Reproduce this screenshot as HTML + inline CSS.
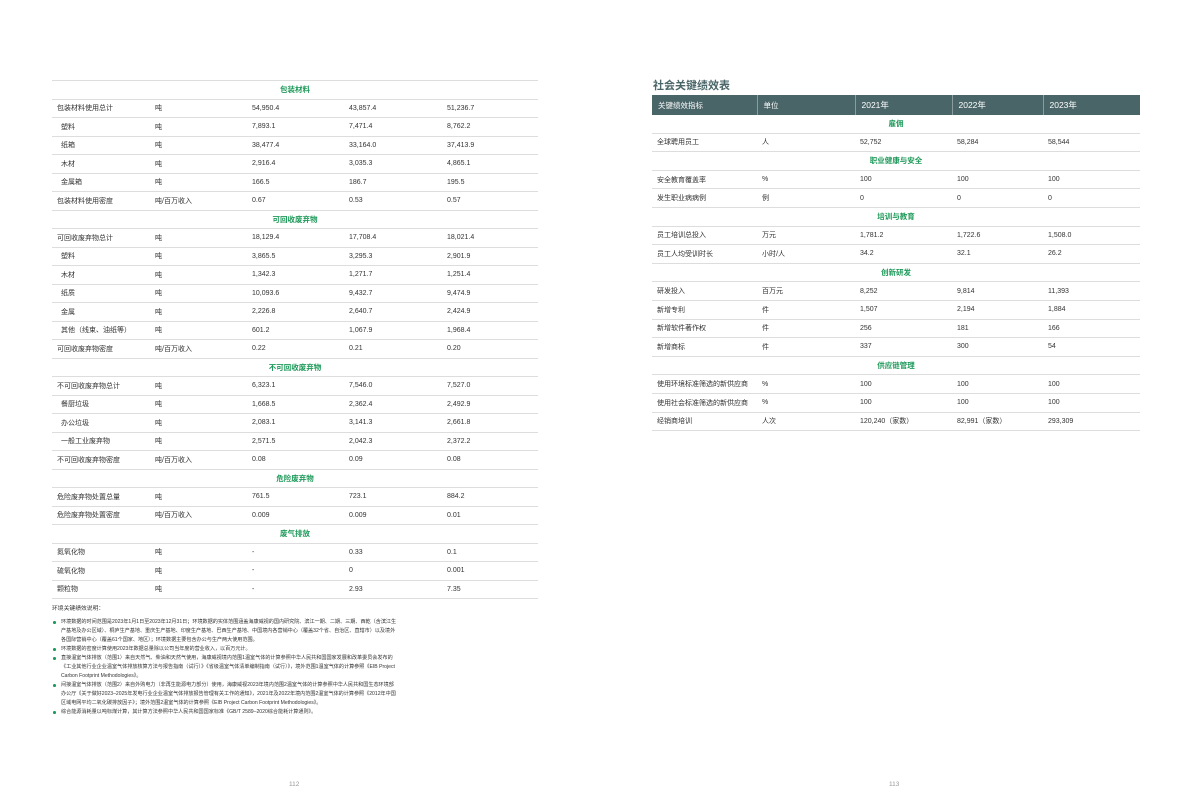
<!DOCTYPE html>
<html><head><meta charset="utf-8"><style>
body{margin:0;width:1192px;height:809px;background:#fff;position:relative;font-family:"Liberation Sans","Noto Sans CJK SC",sans-serif;color:#333;overflow:hidden}
table{border-collapse:collapse;position:absolute;table-layout:fixed;font-size:7px}
td{height:17.5px;padding:0 0 0 5px;border-bottom:1.5px solid #ddd;white-space:nowrap;overflow:hidden}
#R td{height:17.6px}
td.s{text-align:center;color:#1e9a5a;font-weight:bold;font-size:7.5px;padding:0}
.ind{padding-left:9px}
#L{left:52px;top:80px;width:486px;border-top:1.5px solid #ddd}
#R{left:652px;top:95px;width:488px}
#R th{background:#4a6568;color:#fff;font-weight:normal;text-align:left;padding:0 0 0 6px;height:20px;border-left:1px solid #8a9c9e;font-size:8.5px}
#R th:first-child{border-left:none;font-size:7.5px}
#R th:nth-child(2){font-size:7.5px}
.title{position:absolute;left:653px;top:77px;font-size:11px;font-weight:bold;color:#4a6568}
.notes{position:absolute;left:52px;top:605px;width:345px;font-size:5.1px;line-height:9px;color:#333}
.notes p{margin:0}
.notes .b{padding-left:9px;position:relative}
.notes .b:before{content:"";position:absolute;left:1px;top:3px;width:2.5px;height:2.5px;border-radius:50%;background:#1e9a5a}
.pn{position:absolute;top:781px;font-size:6.5px;color:#999}
</style></head><body>
<table id="L">
<colgroup><col style="width:98px"><col style="width:97px"><col style="width:97px"><col style="width:98px"><col style="width:96px"></colgroup>
<tr><td class="s" colspan="5">包装材料</td></tr>
<tr><td>包装材料使用总计</td><td>吨</td><td>54,950.4</td><td>43,857.4</td><td>51,236.7</td></tr>
<tr><td class="ind">塑料</td><td>吨</td><td>7,893.1</td><td>7,471.4</td><td>8,762.2</td></tr>
<tr><td class="ind">纸箱</td><td>吨</td><td>38,477.4</td><td>33,164.0</td><td>37,413.9</td></tr>
<tr><td class="ind">木材</td><td>吨</td><td>2,916.4</td><td>3,035.3</td><td>4,865.1</td></tr>
<tr><td class="ind">金属箱</td><td>吨</td><td>166.5</td><td>186.7</td><td>195.5</td></tr>
<tr><td>包装材料使用密度</td><td>吨/百万收入</td><td>0.67</td><td>0.53</td><td>0.57</td></tr>
<tr><td class="s" colspan="5">可回收废弃物</td></tr>
<tr><td>可回收废弃物总计</td><td>吨</td><td>18,129.4</td><td>17,708.4</td><td>18,021.4</td></tr>
<tr><td class="ind">塑料</td><td>吨</td><td>3,865.5</td><td>3,295.3</td><td>2,901.9</td></tr>
<tr><td class="ind">木材</td><td>吨</td><td>1,342.3</td><td>1,271.7</td><td>1,251.4</td></tr>
<tr><td class="ind">纸质</td><td>吨</td><td>10,093.6</td><td>9,432.7</td><td>9,474.9</td></tr>
<tr><td class="ind">金属</td><td>吨</td><td>2,226.8</td><td>2,640.7</td><td>2,424.9</td></tr>
<tr><td class="ind">其他（线束、油纸等）</td><td>吨</td><td>601.2</td><td>1,067.9</td><td>1,968.4</td></tr>
<tr><td>可回收废弃物密度</td><td>吨/百万收入</td><td>0.22</td><td>0.21</td><td>0.20</td></tr>
<tr><td class="s" colspan="5">不可回收废弃物</td></tr>
<tr><td>不可回收废弃物总计</td><td>吨</td><td>6,323.1</td><td>7,546.0</td><td>7,527.0</td></tr>
<tr><td class="ind">餐厨垃圾</td><td>吨</td><td>1,668.5</td><td>2,362.4</td><td>2,492.9</td></tr>
<tr><td class="ind">办公垃圾</td><td>吨</td><td>2,083.1</td><td>3,141.3</td><td>2,661.8</td></tr>
<tr><td class="ind">一般工业废弃物</td><td>吨</td><td>2,571.5</td><td>2,042.3</td><td>2,372.2</td></tr>
<tr><td>不可回收废弃物密度</td><td>吨/百万收入</td><td>0.08</td><td>0.09</td><td>0.08</td></tr>
<tr><td class="s" colspan="5">危险废弃物</td></tr>
<tr><td>危险废弃物处置总量</td><td>吨</td><td>761.5</td><td>723.1</td><td>884.2</td></tr>
<tr><td>危险废弃物处置密度</td><td>吨/百万收入</td><td>0.009</td><td>0.009</td><td>0.01</td></tr>
<tr><td class="s" colspan="5">废气排放</td></tr>
<tr><td>氮氧化物</td><td>吨</td><td>-</td><td>0.33</td><td>0.1</td></tr>
<tr><td>硫氧化物</td><td>吨</td><td>-</td><td>0</td><td>0.001</td></tr>
<tr><td>颗粒物</td><td>吨</td><td>-</td><td>2.93</td><td>7.35</td></tr>
</table>

<div class="notes">
<p style="font-size:5.8px;margin-bottom:4px">环境关键绩效说明：</p>
<p class="b">环境数据的时间范围是2023年1月1日至2023年12月31日；环境数据的实体范围涵盖海康威视的国内研究院、滨江一期、二期、三期、西乾（含滨江生产基地及办公区域）、桐庐生产基地、重庆生产基地、印度生产基地、巴西生产基地、中国境内各营销中心（覆盖32个省、自治区、直辖市）以及境外各国际营销中心（覆盖61个国家、地区）；环境数据主要包含办公与生产两大使用范围。</p>
<p class="b">环境数据的密度计算使用2023年数据总量除以公司当年度的营业收入，以百万元计。</p>
<p class="b">直接温室气体排放（范围1）来自天然气、柴油和天然气使用，海康威视境内范围1温室气体的计算参照中华人民共和国国家发展和改革委员会发布的《工业其他行业企业温室气体排放核算方法与报告指南（试行）》《省级温室气体清单编制指南（试行）》，境外范围1温室气体的计算参照《EIB Project Carbon Footprint Methodologies》。</p>
<p class="b">间接温室气体排放（范围2）来自外购电力（非再生能源电力部分）使用，海康威视2023年境内范围2温室气体的计算参照中华人民共和国生态环境部办公厅《关于做好2023–2025年发电行业企业温室气体排放报告管理有关工作的通知》，2021年及2022年境内范围2温室气体的计算参照《2012年中国区域电网平均二氧化碳排放因子》；境外范围2温室气体的计算参照《EIB Project Carbon Footprint Methodologies》。</p>
<p class="b">综合能源消耗量以吨标煤计算，其计算方法参照中华人民共和国国家标准《GB/T 2589–2020综合能耗计算通则》。</p>
</div>

<div class="title">社会关键绩效表</div>
<table id="R">
<colgroup><col style="width:105px"><col style="width:98px"><col style="width:97px"><col style="width:91px"><col style="width:97px"></colgroup>
<tr><th>关键绩效指标</th><th>单位</th><th>2021年</th><th>2022年</th><th>2023年</th></tr>
<tr><td class="s" colspan="5">雇佣</td></tr>
<tr><td>全球聘用员工</td><td>人</td><td>52,752</td><td>58,284</td><td>58,544</td></tr>
<tr><td class="s" colspan="5">职业健康与安全</td></tr>
<tr><td>安全教育覆盖率</td><td>%</td><td>100</td><td>100</td><td>100</td></tr>
<tr><td>发生职业病病例</td><td>例</td><td>0</td><td>0</td><td>0</td></tr>
<tr><td class="s" colspan="5">培训与教育</td></tr>
<tr><td>员工培训总投入</td><td>万元</td><td>1,781.2</td><td>1,722.6</td><td>1,508.0</td></tr>
<tr><td>员工人均受训时长</td><td>小时/人</td><td>34.2</td><td>32.1</td><td>26.2</td></tr>
<tr><td class="s" colspan="5">创新研发</td></tr>
<tr><td>研发投入</td><td>百万元</td><td>8,252</td><td>9,814</td><td>11,393</td></tr>
<tr><td>新增专利</td><td>件</td><td>1,507</td><td>2,194</td><td>1,884</td></tr>
<tr><td>新增软件著作权</td><td>件</td><td>256</td><td>181</td><td>166</td></tr>
<tr><td>新增商标</td><td>件</td><td>337</td><td>300</td><td>54</td></tr>
<tr><td class="s" colspan="5">供应链管理</td></tr>
<tr><td>使用环境标准筛选的新供应商</td><td>%</td><td>100</td><td>100</td><td>100</td></tr>
<tr><td>使用社会标准筛选的新供应商</td><td>%</td><td>100</td><td>100</td><td>100</td></tr>
<tr><td>经销商培训</td><td>人次</td><td>120,240（家数）</td><td>82,991（家数）</td><td>293,309</td></tr>
</table>

<div class="pn" style="left:289px">112</div>
<div class="pn" style="left:889px">113</div>
</body></html>
